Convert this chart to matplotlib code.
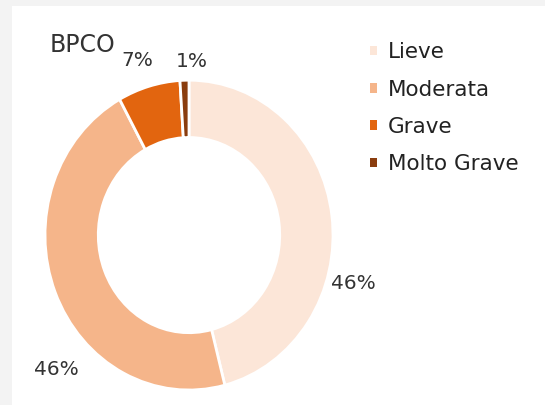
import matplotlib
matplotlib.use("Agg")
import matplotlib.pyplot as plt
import numpy as np

categories = ["Lieve", "Moderata", "Grave", "Molto Grave"]
values = [46, 46, 7, 1]
labels = ["46%", "46%", "7%", "1%"]
colors = ["#FCE6D8", "#F5B58A", "#E2650F", "#8A3D0E"]
title = "BPCO"

# label positions (data units, radius 1 = outer edge)
label_pos = [(1.14, -0.31), (-0.92, -0.87), (-0.36, 1.13), (0.02, 1.12)]

fig = plt.figure(figsize=(5.45, 4.05), dpi=100)
fig.patch.set_facecolor("white")
# light grey frame strips
fig.add_artist(plt.Rectangle((0, 0), 12/545, 1, transform=fig.transFigure,
                             color="#F3F3F3", lw=0, zorder=0))
fig.add_artist(plt.Rectangle((0, 1 - 6/405), 1, 6/405, transform=fig.transFigure,
                             color="#F3F3F3", lw=0, zorder=0))

ax = fig.add_axes([45/545, 0.037, 288/545, 0.765])
wedges, _ = ax.pie(values, colors=colors, startangle=90, counterclock=False,
                   radius=1.0,
                   wedgeprops=dict(width=0.37, edgecolor="white", linewidth=2))
ax.set_aspect("auto")
ax.set_xlim(-1, 1)
ax.set_ylim(-1, 1)
ax.axis("off")

for lab, (x, y) in zip(labels, label_pos):
    ax.text(x, y, lab, ha="center", va="center", fontsize=14.5, color="#333333",
            clip_on=False)

fig.text(82/545, 1 - 45/405, title, ha="center", va="center", fontsize=17,
         color="#333333")

leg = fig.legend(wedges, categories, loc="upper left",
                 bbox_to_anchor=(351/545, 1 - 23/405), frameon=False,
                 fontsize=15.5, handlelength=0.3, handleheight=0.3,
                 handletextpad=0.5, labelspacing=0.8, labelcolor="#222222")
for h in leg.legend_handles:
    h.set_edgecolor("none")

fig.savefig("out.png", dpi=100)
